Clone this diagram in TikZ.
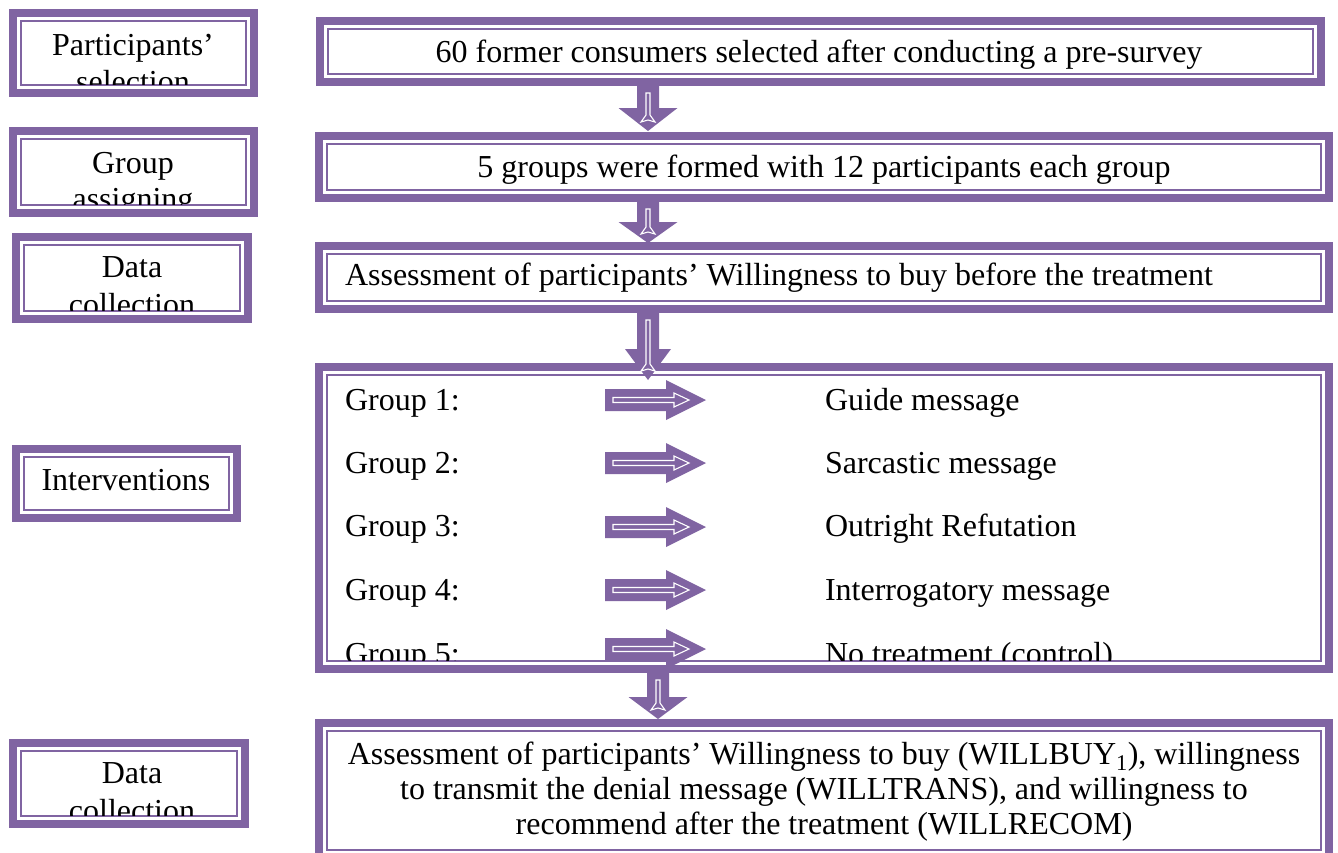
\documentclass[tikz,border=0pt]{standalone}
\usepackage{fontspec}
\setmainfont{Liberation Serif}
\definecolor{purp}{HTML}{8064A2}
\tikzset{
  boxarea/.style={inner sep=0pt, outer sep=0pt, draw=none},
  outerb/.style={draw=purp, line width=8pt},
  innerb/.style={draw=purp, line width=2pt},
  txt/.style={inner sep=0pt, outer sep=0pt, font=\fontsize{32}{37}\selectfont},
  blockarrow/.style={fill=purp, draw=none},
  innerarrow/.style={draw=white, line width=1.1pt, line join=miter}
}
\newcommand\mkbox[5]{%
  \node[boxarea, minimum width={(#4-#2)*1pt}, minimum height={(#5-#3)*1pt}] (#1) at ({(#2+#4)/2},{(#3+#5)/2}) {};
  \draw[outerb] ([shift={(4pt,-4pt)}]#1.north west) rectangle ([shift={(-4pt,4pt)}]#1.south east);
  \draw[innerb] ([shift={(12pt,-12pt)}]#1.north west) rectangle ([shift={(-12pt,12pt)}]#1.south east);
}
\newcommand\boxclip[1]{\clip ([shift={(13pt,-13pt)}]#1.north west) rectangle ([shift={(-13pt,13pt)}]#1.south east);}
% down block arrow: cx, ytop, yhead, ytip, headhalf
\newcommand\downarr[5]{%
  \fill[blockarrow] ({#1-11},#2) -- ({#1-11},#3) -- ({#1-#5},#3) -- (#1,#4) -- ({#1+#5},#3) -- ({#1+11},#3) -- ({#1+11},#2) -- cycle;
  \draw[innerarrow] ({#1-2},{#2+7}) -- ({#1-2},{#4-16}) -- ({#1-7},{#4-9}) -- (#1,{#4-11}) -- ({#1+7},{#4-9}) -- ({#1+2},{#4-16}) -- ({#1+2},{#2+7}) -- cycle;
}
% right block arrow at centre y
\newcommand\rightarr[1]{%
  \fill[blockarrow] (605,{#1-11}) -- (666,{#1-11}) -- (666,{#1-20}) -- (706,#1) -- (666,{#1+20}) -- (666,{#1+11}) -- (605,{#1+11}) -- cycle;
  \draw[innerarrow] (613,{#1-2.5}) -- (674,{#1-2.5}) -- (674,{#1-7}) -- (689,#1) -- (674,{#1+7}) -- (674,{#1+2.5}) -- (613,{#1+2.5}) -- cycle;
}
\begin{document}
\begin{tikzpicture}[x=1pt,y=-1pt]
\useasboundingbox (0,0) rectangle (1338,852);
\clip (0,0) rectangle (1338,852);
\fill[white] (0,0) rectangle (1338,852);

% left boxes
\mkbox{L1}{9}{9}{258}{97}
\mkbox{L2}{9}{127}{258}{217}
\mkbox{L3}{12}{233}{252}{323}
\mkbox{L4}{12}{445}{241}{522}
\mkbox{L5}{9}{739}{249}{828}
% right boxes
\mkbox{R1}{316}{17}{1325}{86}
\mkbox{R2}{315}{132}{1333}{202}
\mkbox{R3}{315}{242}{1333}{313}
\mkbox{R4}{315}{363}{1333}{673}
\mkbox{R5}{315}{719}{1333}{862}

% left texts
\begin{scope}\boxclip{L1}
  \node[txt, anchor=base] (l1a) at (133,55) {Participants’};
  \node[txt, anchor=base] (l1b) at (133,92) {selection};
\end{scope}
\begin{scope}\boxclip{L2}
  \node[txt, anchor=base] (l2a) at (133,173) {Group};
  \node[txt, anchor=base] (l2b) at (133,209) {assigning};
\end{scope}
\begin{scope}\boxclip{L3}
  \node[txt, anchor=base] (l3a) at (132,277) {Data};
  \node[txt, anchor=base] (l3b) at (132,315) {collection};
\end{scope}
\node[txt, anchor=base] (l4a) at (126,490) {Interventions};
\begin{scope}\boxclip{L5}
  \node[txt, anchor=base] (l5a) at (132,783) {Data};
  \node[txt, anchor=base] (l5b) at (132,821) {collection};
\end{scope}

% right texts
\node[txt, anchor=base] (r1) at (819,62) {60 former consumers selected after conducting a pre-survey};
\node[txt, anchor=base] (r2) at (824,177) {5 groups were formed with 12 participants each group};
\node[txt, anchor=base west] (r3) at (345,285) {Assessment of participants’ Willingness to buy before the treatment};
\begin{scope}\boxclip{R4}
  \node[txt, anchor=base west] (g1) at (345,410) {Group 1:};
  \node[txt, anchor=base west] (g2) at (345,473) {Group 2:};
  \node[txt, anchor=base west] (g3) at (345,536) {Group 3:};
  \node[txt, anchor=base west] (g4) at (345,600) {Group 4:};
  \node[txt, anchor=base west] (g5) at (345,664) {Group 5:};
  \node[txt, anchor=base west] (m1) at (825,410) {Guide message};
  \node[txt, anchor=base west] (m2) at (825,473) {Sarcastic message};
  \node[txt, anchor=base west] (m3) at (825,536) {Outright Refutation};
  \node[txt, anchor=base west] (m4) at (825,600) {Interrogatory message};
  \node[txt, anchor=base west] (m5) at (825,664) {No treatment (control)};
\end{scope}
\node[txt, anchor=base] (r5a) at (824,764) {Assessment of participants’ Willingness to buy (WILLBUY\textsubscript{1}), willingness};
\node[txt, anchor=base] (r5b) at (824,799) {to transmit the denial message (WILLTRANS), and willingness to};
\node[txt, anchor=base] (r5c) at (824,834) {recommend after the treatment (WILLRECOM)};

% down arrows
\downarr{648}{86}{108}{131}{29.5}
\downarr{648}{202}{222}{243}{29.5}
\downarr{648}{313}{349}{380}{23}
\downarr{658}{673}{697}{719}{29.5}
% right arrows
\rightarr{400}
\rightarr{463}
\rightarr{527}
\rightarr{590}
\rightarr{649}
\end{tikzpicture}
\end{document}
